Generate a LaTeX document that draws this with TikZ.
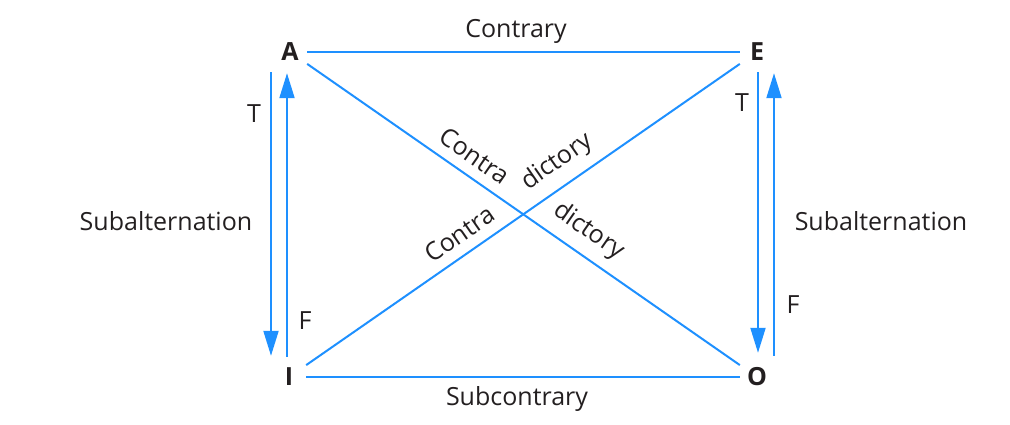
\documentclass[tikz,border=0pt]{standalone}
\usepackage{fontspec}
\setmainfont{Open Sans}
\usepackage{tikz}
\usetikzlibrary{arrows.meta}
\definecolor{lineblue}{RGB}{30,144,255}
\definecolor{inkblack}{RGB}{35,31,32}

\begin{document}
\begin{tikzpicture}[x=1pt, y=-1pt, font=\fontsize{25}{30}\selectfont, text=inkblack,
  corner/.style={font=\fontsize{25}{30}\selectfont\bfseries, inner sep=0pt, minimum width=34pt, minimum height=28pt},
  lbl/.style={inner sep=0pt, anchor=base},
  link/.style={draw=lineblue, line width=2pt},
  implies/.style={draw=lineblue, line width=2pt, -{Triangle[length=25pt, width=15pt]}},
  diag/.style={sloped, above=10pt, inner sep=0pt}]

\useasboundingbox (0,0) rectangle (1010,425);

\node[corner] (A) at (290,52) {A};
\node[corner] (E) at (757,52) {E};
\node[corner] (I) at (289,377) {I};
\node[corner] (O) at (757,377) {O};

\draw[link] (A) -- (E);
\draw[link] (I) -- (O);
\draw[link] (A) -- node[diag, pos=0.36] {Contra} node[diag, pos=0.62] {dictory} (O);
\draw[link] (I) -- node[diag, pos=0.38] {Contra} node[diag, pos=0.61] {dictory} (E);

%left side
\draw[implies] ([xshift=-19pt,yshift=-6pt]A.south) -- ([xshift=-18pt,yshift=7pt]I.north);
\draw[implies] ([xshift=-2pt,yshift=6pt]I.north) -- ([xshift=-3pt,yshift=-7pt]A.south);
%right side
\draw[implies] ([xshift=1pt,yshift=-6pt]E.south) -- ([xshift=1pt,yshift=10pt]O.north);
\draw[implies] ([xshift=17pt,yshift=7pt]O.north) -- ([xshift=17pt,yshift=-7pt]E.south);

\node[lbl] (contrary) at (516,38) {Contrary};
\node[lbl] (subcontrary) at (517,405) {Subcontrary};
\node[lbl] (subleft) at (166,230) {Subalternation};
\node[lbl] (subright) at (881,230) {Subalternation};
\node[lbl] (tleft) at (254,123) {T};
\node[lbl] (fleft) at (305,329) {F};
\node[lbl] (tright) at (742,112) {T};
\node[lbl] (fright) at (793,313) {F};

\end{tikzpicture}
\end{document}
